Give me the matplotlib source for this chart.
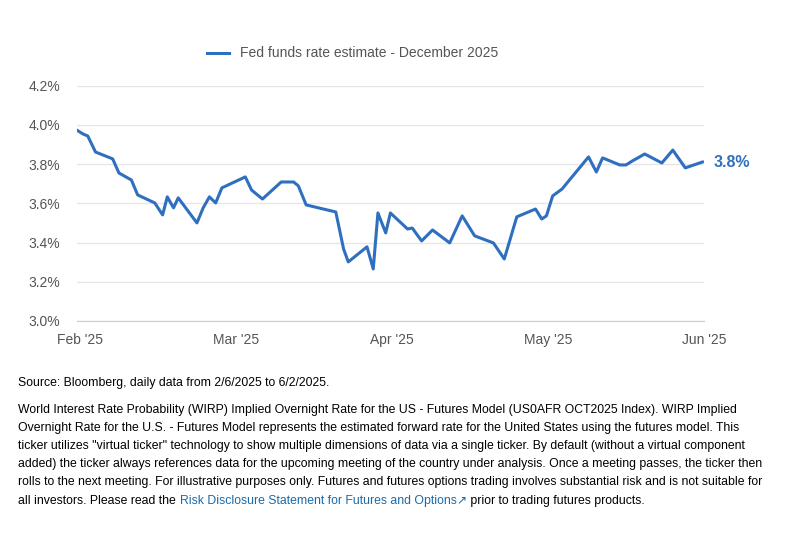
import matplotlib.pyplot as plt

plt.rcParams['font.family'] = ['Liberation Sans', 'DejaVu Sans']

# x in months since Feb 1 2025, y in percent
months = [-0.02, 0.02, 0.05, 0.10, 0.21, 0.25, 0.33, 0.37, 0.48, 0.53, 0.56, 0.60, 0.63, 0.75,
          0.79, 0.83, 0.87, 0.91, 1.06, 1.10, 1.17, 1.29, 1.37, 1.40, 1.45, 1.56, 1.64, 1.69,
          1.72, 1.84, 1.88, 1.91, 1.96, 1.99, 2.10, 2.13, 2.19, 2.26, 2.37, 2.45, 2.53, 2.65,
          2.72, 2.80, 2.92, 2.96, 2.99, 3.03, 3.09, 3.26, 3.31, 3.35, 3.46, 3.50, 3.54, 3.62,
          3.73, 3.80, 3.88, 3.99]
rate = [3.974, 3.954, 3.944, 3.862, 3.827, 3.755, 3.719, 3.643, 3.602, 3.541, 3.633, 3.577,
        3.628, 3.500, 3.577, 3.633, 3.602, 3.679, 3.735, 3.668, 3.622, 3.709, 3.709, 3.689,
        3.592, 3.571, 3.556, 3.367, 3.301, 3.378, 3.265, 3.551, 3.449, 3.551, 3.469, 3.474,
        3.408, 3.464, 3.398, 3.536, 3.434, 3.398, 3.316, 3.531, 3.571, 3.520, 3.536, 3.638,
        3.673, 3.837, 3.760, 3.832, 3.796, 3.796, 3.816, 3.852, 3.806, 3.872, 3.781, 3.811]
tick_labels = ["Feb '25", "Mar '25", "Apr '25", "May '25", "Jun '25"]
yticks = [3.0, 3.2, 3.4, 3.6, 3.8, 4.0, 4.2]

blue = '#2f6fbf'
grey = '#555555'

fig = plt.figure(figsize=(8, 5.33), dpi=100)
ax = fig.add_axes([0.096, 0.398, 0.784, 0.441])
ax.plot(months, rate, color=blue, lw=2.2, label='Fed funds rate estimate - December 2025')
ax.set_xlim(-0.02, 4.0)
ax.set_ylim(3.0, 4.2)
ax.set_xticks(range(5))
ax.set_xticklabels(tick_labels)
ax.set_yticks(yticks)
ax.set_yticklabels([f'{v:.1f}%' for v in yticks])
ax.grid(axis='y', color='#e6e6e6', lw=1)
for s in ax.spines.values():
    s.set_visible(False)
ax.spines['bottom'].set_visible(True)
ax.spines['bottom'].set_color('#cccccc')
ax.tick_params(length=0, labelsize=10, colors=grey, pad=9)
ax.tick_params(axis='y', pad=12)
ax.annotate('3.8%', (months[-1], rate[-1]), xytext=(8, 0), textcoords='offset points',
            color=blue, fontsize=11.5, fontweight='bold', va='center', annotation_clip=False)
ax.legend(loc='lower center', bbox_to_anchor=(0.44, 1.055), frameon=False, fontsize=10,
          handlelength=1.6, labelcolor=grey)

fs = 8.8
fig.text(0.023, 1 - 386 / 533, 'Source: Bloomberg, daily data from 2/6/2025 to 6/2/2025.',
         fontsize=fs, va='baseline')
body = ("World Interest Rate Probability (WIRP) Implied Overnight Rate for the US - Futures Model (US0AFR OCT2025 Index). WIRP Implied\n"
        "Overnight Rate for the U.S. - Futures Model represents the estimated forward rate for the United States using the futures model. This\n"
        "ticker utilizes \"virtual ticker\" technology to show multiple dimensions of data via a single ticker. By default (without a virtual component\n"
        "added) the ticker always references data for the upcoming meeting of the country under analysis. Once a meeting passes, the ticker then\n"
        "rolls to the next meeting. For illustrative purposes only. Futures and futures options trading involves substantial risk and is not suitable for")
fig.text(0.023, 1 - 404 / 533, body, fontsize=fs, linespacing=1.68, va='top')
r = fig.canvas.get_renderer()
yb = 1 - 504 / 533
t1 = fig.text(0.023, yb, 'all investors. Please read the ', fontsize=fs, va='baseline')
x = 0.023 + t1.get_window_extent(r).width / 800
t2 = fig.text(x, yb, 'Risk Disclosure Statement for Futures and Options\u2197', fontsize=fs,
              color='#1a6aa8', va='baseline')
x += t2.get_window_extent(r).width / 800
fig.text(x, yb, ' prior to trading futures products.', fontsize=fs, va='baseline')
fig.savefig('out.png')
